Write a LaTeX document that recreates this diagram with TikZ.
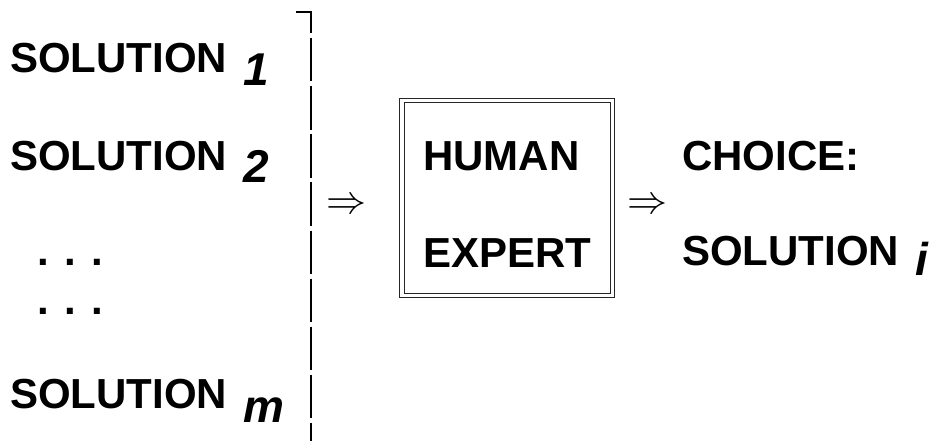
\documentclass[tikz,border=0pt]{standalone}
\usepackage{fontspec}
\setmainfont{Liberation Sans}
\tikzset{
  lbl/.style={anchor=base west, inner sep=0pt, font=\fontsize{42}{50}\selectfont\bfseries},
  arr/.style={inner sep=0pt},
  expertbox/.style={draw=black!85, line width=0.9pt, inner sep=0pt},
  bracket/.style={line width=2pt, dash pattern=on 43.4pt off 4.7pt, dash phase=7pt}
}
\newcommand{\subx}[2]{\hspace{5pt}\raisebox{-#1pt}{\fontsize{46}{50}\selectfont\itshape #2}}
\begin{document}
\begin{tikzpicture}[x=1pt,y=-1pt]
\useasboundingbox (0,0) rectangle (934,441);
% left column
\node[lbl] (s1) at (10,73) {SOLUTION \subx{13}{1}};
\node[lbl] (s2) at (10,170) {SOLUTION \subx{12}{2}};
\node[lbl] (d1) at (37,265) {.\hspace{15.3pt}.\hspace{15.3pt}.};
\node[lbl] (d2) at (37,314) {.\hspace{15.3pt}.\hspace{15.3pt}.};
\node[lbl] (sm) at (10,408) {SOLUTION \subx{14}{m}};
% bracket
\coordinate (bt) at (296,12);
\coordinate (bb) at (311,441);
\draw[bracket] (bt) -| (bb);
% arrows
\node[arr] (a1) at (346,206) {\scalebox{4}{$\Rightarrow$}};
\node[arr] (a2) at (647,206) {\scalebox{4}{$\Rightarrow$}};
% box
\node[expertbox, minimum width=215pt, minimum height=199pt] (box) at (507,197.5) {};
\draw[expertbox] ([shift={(5,5)}]box.north west) rectangle ([shift={(-4.5,-4.5)}]box.south east);
\node[lbl] (h) at (423,170) {HUMAN};
\node[lbl] (e) at (423,267) {EXPERT};
% right
\node[lbl] (c) at (682,170) {CHOICE:};
\node[lbl] (si) at (682,265) {SOLUTION \subx{10}{i}};
\end{tikzpicture}
\end{document}
